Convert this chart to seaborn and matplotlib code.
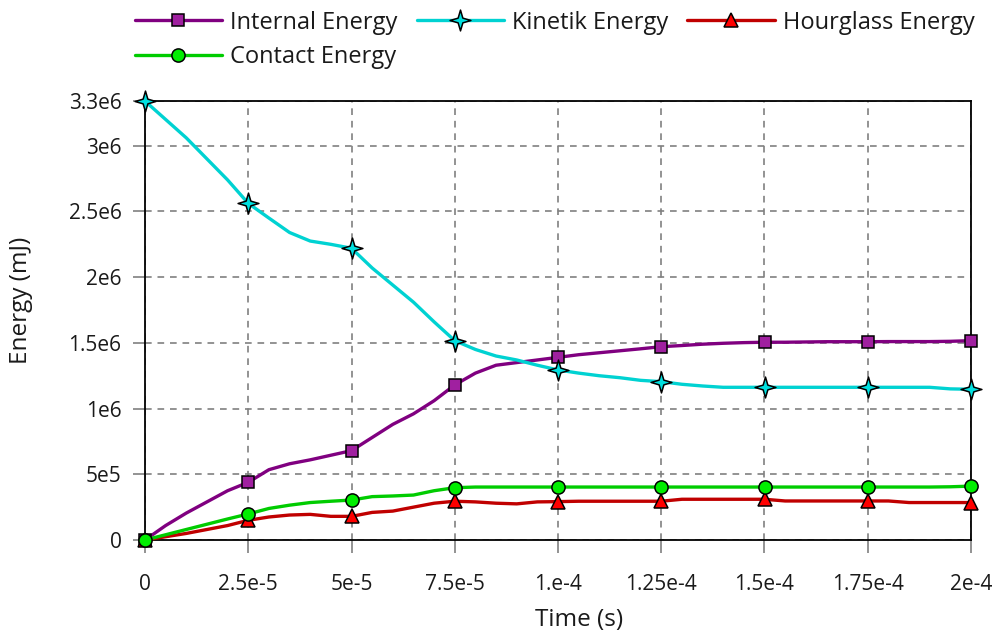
import numpy as np
import pandas as pd
import matplotlib
matplotlib.use("Agg")
import matplotlib.pyplot as plt
from matplotlib.path import Path
import seaborn as sns

# Time samples (s), every 5e-6 from 0 to 2e-4
time_s = [i * 5e-6 for i in range(41)]

internal_energy = [
    0, 1.1e5, 2.05e5, 2.9e5, 3.75e5, 4.39e5,
    5.35e5, 5.8e5, 6.1e5, 6.45e5, 6.8e5,
    7.8e5, 8.8e5, 9.6e5, 1.06e6, 1.18e6,
    1.27e6, 1.33e6, 1.35e6, 1.37e6, 1.39e6,
    1.41e6, 1.425e6, 1.44e6, 1.455e6, 1.471e6,
    1.48e6, 1.49e6, 1.497e6, 1.502e6, 1.505e6,
    1.505e6, 1.507e6, 1.509e6, 1.509e6, 1.509e6,
    1.51e6, 1.51e6, 1.51e6, 1.512e6, 1.517e6,
]

kinetic_energy = [
    3.34e6, 3.20e6, 3.06e6, 2.90e6, 2.74e6, 2.562e6,
    2.45e6, 2.34e6, 2.275e6, 2.25e6, 2.22e6,
    2.07e6, 1.94e6, 1.81e6, 1.66e6, 1.517e6,
    1.45e6, 1.40e6, 1.37e6, 1.33e6, 1.294e6,
    1.27e6, 1.25e6, 1.235e6, 1.215e6, 1.205e6,
    1.185e6, 1.172e6, 1.162e6, 1.162e6, 1.162e6,
    1.162e6, 1.162e6, 1.162e6, 1.162e6, 1.162e6,
    1.162e6, 1.162e6, 1.162e6, 1.15e6, 1.147e6,
]

hourglass_energy = [
    0, 2.5e4, 5e4, 8e4, 1.1e5, 1.5e5,
    1.75e5, 1.9e5, 1.95e5, 1.8e5, 1.8e5,
    2.1e5, 2.2e5, 2.5e5, 2.8e5, 2.95e5,
    2.9e5, 2.8e5, 2.75e5, 2.9e5, 2.92e5,
    2.95e5, 2.95e5, 2.95e5, 2.95e5, 2.95e5,
    3.1e5, 3.1e5, 3.1e5, 3.1e5, 3.1e5,
    2.97e5, 2.97e5, 2.97e5, 2.97e5, 2.97e5,
    2.97e5, 2.85e5, 2.85e5, 2.85e5, 2.85e5,
]

contact_energy = [
    0, 4e4, 8e4, 1.2e5, 1.6e5, 1.98e5,
    2.4e5, 2.65e5, 2.85e5, 2.95e5, 3.04e5,
    3.3e5, 3.35e5, 3.42e5, 3.75e5, 3.98e5,
    4.03e5, 4.03e5, 4.03e5, 4.03e5, 4.03e5,
    4.03e5, 4.03e5, 4.03e5, 4.03e5, 4.03e5,
    4.03e5, 4.03e5, 4.03e5, 4.03e5, 4.03e5,
    4.03e5, 4.03e5, 4.03e5, 4.03e5, 4.03e5,
    4.03e5, 4.03e5, 4.03e5, 4.05e5, 4.1e5,
]

x_ticks = [0, 2.5e-5, 5e-5, 7.5e-5, 1e-4, 1.25e-4, 1.5e-4, 1.75e-4, 2e-4]
x_tick_labels = ["0", "2.5e-5", "5e-5", "7.5e-5", "1.e-4", "1.25e-4", "1.5e-4", "1.75e-4", "2e-4"]
y_max = 3.343e6
y_ticks = [0, 5e5, 1e6, 1.5e6, 2e6, 2.5e6, 3e6, y_max]
y_tick_labels = ["0", "5e5", "1e6", "1.5e6", "2e6", "2.5e6", "3e6", "3.3e6"]

TICK_FS = 15
TEXT_COLOR = "#1a1a1a"
GRID_COLOR = "#808080"

sns.set_theme(style="ticks", context="notebook", rc={
    "xtick.labelsize": TICK_FS, "ytick.labelsize": TICK_FS,
    "xtick.major.size": 9, "ytick.major.size": 9,
    "xtick.major.pad": 15.5, "ytick.major.pad": 8,
    "xtick.major.width": 1.2, "ytick.major.width": 1.2,
    "xtick.color": GRID_COLOR, "ytick.color": GRID_COLOR,
    "xtick.labelcolor": TEXT_COLOR, "ytick.labelcolor": TEXT_COLOR,
    "axes.edgecolor": "black", "axes.linewidth": 1.3,
    "axes.grid": True, "grid.color": GRID_COLOR, "grid.linewidth": 1.2,
    "grid.linestyle": "--",
})
plt.rcParams["font.family"] = ["Open Sans", "DejaVu Sans"]

fig, ax = plt.subplots(figsize=(10.03, 6.36), dpi=100)
fig.subplots_adjust(left=145 / 1003, right=971 / 1003,
                    bottom=1 - 540 / 636, top=1 - 100.7 / 636)

star4 = Path.unit_regular_star(4, 0.32)

series = [
    ("Internal Energy", internal_energy, "#800080", "#a020a0", "s", 9),
    ("Kinetik Energy", kinetic_energy, "#00d2d2", "#00e0e0", star4, 15),
    ("Hourglass Energy", hourglass_energy, "#c00000", "#ff0000", "^", 10.5),
    ("Contact Energy", contact_energy, "#00cc00", "#00ee00", "o", 9.5),
]

for name, vals, lc, fc, mk, ms in series:
    df = pd.DataFrame({"time": time_s, "energy": vals})
    sns.lineplot(
        data=df, x="time", y="energy", ax=ax, label=name,
        color=lc, linewidth=2.4, marker=mk, markersize=ms,
        markerfacecolor=fc, markeredgecolor="black", markeredgewidth=1.1,
        markevery=5, clip_on=False, zorder=3,
    )

ax.set_xlim(0, 2e-4)
ax.set_ylim(0, y_max)
ax.set_xticks(x_ticks, x_tick_labels)
ax.set_yticks(y_ticks, y_tick_labels)
ax.grid(True, color=GRID_COLOR, linestyle=(0, (4, 3.5)), linewidth=1.2)
ax.tick_params(axis="x", length=9, pad=15.5, labelsize=TICK_FS)
ax.tick_params(axis="y", length=9, pad=8, labelsize=TICK_FS)
sns.despine(ax=ax, top=False, right=False)

ax.set_xlabel("Time (s)", fontsize=17.5, color=TEXT_COLOR)
ax.set_ylabel("Energy (mJ)", fontsize=17.5, color=TEXT_COLOR)
ax.xaxis.set_label_coords(0.525, -0.154)
ax.yaxis.set_label_coords(-0.136, 0.546)

handles, labels = ax.get_legend_handles_labels()
ax.get_legend().remove()
order = [0, 3, 1, 2]
leg = fig.legend([handles[i] for i in order], [labels[i] for i in order],
                 loc="upper left", bbox_to_anchor=(124 / 1003, 1.0), ncol=3,
                 frameon=False, fontsize=17, handlelength=3.7, handletextpad=0.35,
                 columnspacing=0.8, labelspacing=0.45, borderaxespad=0.05)
for t in leg.get_texts():
    t.set_color(TEXT_COLOR)

fig.savefig("out.png", dpi=100, facecolor="white")
